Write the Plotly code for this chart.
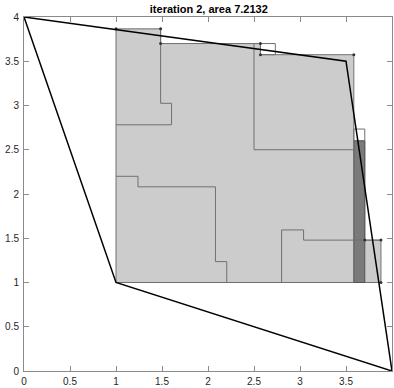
import plotly.graph_objects as go

# Outer polygon
poly_x = [0, 3.5, 4, 1, 0]
poly_y = [4, 3.5, 0, 1, 4]

# Light gray filled region (union of rectangles), outline
region_x = [1, 1, 1.485, 1.485, 2.57, 2.57, 3.585, 3.585, 3.704, 3.704, 3.88, 3.88, 1]
region_y = [1, 3.866, 3.866, 3.70, 3.70, 3.574, 3.574, 2.60, 2.60, 1.479, 1.479, 1, 1]

# Dark rectangle
dark_x = [3.585, 3.704, 3.704, 3.585, 3.585]
dark_y = [1, 1, 2.60, 2.60, 1]

# Empty (outline only) rectangles
empty1_x = [2.57, 2.732, 2.732, 2.57, 2.57]
empty1_y = [3.574, 3.574, 3.70, 3.70, 3.574]
empty2_x = [3.585, 3.704, 3.704, 3.585, 3.585]
empty2_y = [2.60, 2.60, 2.734, 2.734, 2.60]

# Internal boundary lines
l1_x = [1.485, 1.485, 1.604, 1.604, 1]
l1_y = [3.866, 3.025, 3.025, 2.782, 2.782]
l2_x = [1, 1.239, 1.239, 2.081, 2.081, 2.204, 2.204]
l2_y = [2.20, 2.20, 2.081, 2.081, 1.236, 1.236, 1]
l3_x = [2.5, 2.5, 3.585]
l3_y = [3.70, 2.5, 2.5]
l4_x = [2.80, 2.80, 3.039, 3.039, 3.88]
l4_y = [1, 1.594, 1.594, 1.479, 1.479]

# Corner dots
dot_x = [1, 1.485, 1.485, 2.57, 2.57, 3.585, 3.704, 3.88, 3.88]
dot_y = [3.866, 3.866, 3.70, 3.70, 3.574, 3.574, 1.479, 1.479, 1]

tick_vals = [0, 0.5, 1, 1.5, 2, 2.5, 3, 3.5, 4]
tick_text = ["0", "0.5", "1", "1.5", "2", "2.5", "3", "3.5", "4"]

edge = "#707070"
fig = go.Figure()
fig.add_trace(go.Scatter(x=region_x, y=region_y, fill="toself", fillcolor="#cccccc",
                         mode="lines", line=dict(color=edge, width=1), hoverinfo="skip"))
fig.add_trace(go.Scatter(x=dark_x, y=dark_y, fill="toself", fillcolor="#7a7a7a",
                         mode="lines", line=dict(color="#555555", width=1), hoverinfo="skip"))
for ex, ey in [(empty1_x, empty1_y), (empty2_x, empty2_y)]:
    fig.add_trace(go.Scatter(x=ex, y=ey, mode="lines", line=dict(color=edge, width=1), hoverinfo="skip"))
for lx, ly in [(l1_x, l1_y), (l2_x, l2_y), (l3_x, l3_y), (l4_x, l4_y)]:
    fig.add_trace(go.Scatter(x=lx, y=ly, mode="lines", line=dict(color=edge, width=1), hoverinfo="skip"))
fig.add_trace(go.Scatter(x=dot_x, y=dot_y, mode="markers", marker=dict(color="#333333", size=3), hoverinfo="skip"))
fig.add_trace(go.Scatter(x=poly_x, y=poly_y, mode="lines", line=dict(color="black", width=1.5), hoverinfo="skip"))

axis_common = dict(range=[0, 4], showgrid=False, zeroline=False, showline=True, linecolor="#8a8a8a",
                   linewidth=1, mirror="ticks", ticks="inside", ticklen=5, tickcolor="#8a8a8a",
                   tickvals=tick_vals, ticktext=tick_text,
                   tickfont=dict(family="Liberation Sans, Arial, sans-serif", size=10, color="#262626"))

fig.update_layout(
    width=394, height=388,
    margin=dict(l=24, r=1, t=17, b=14),
    paper_bgcolor="white", plot_bgcolor="white",
    showlegend=False,
    title=dict(text="<b>iteration 2, area 7.2132</b>", x=0.53, xanchor="center",
               y=1 - 9 / 388, yanchor="middle", yref="container",
               font=dict(family="Liberation Sans, Arial, sans-serif", size=11, color="#000000")),
    xaxis=dict(**axis_common, ticklabelstandoff=1),
    yaxis=dict(**axis_common, ticklabelstandoff=2),
)

fig.write_html("out.html")
